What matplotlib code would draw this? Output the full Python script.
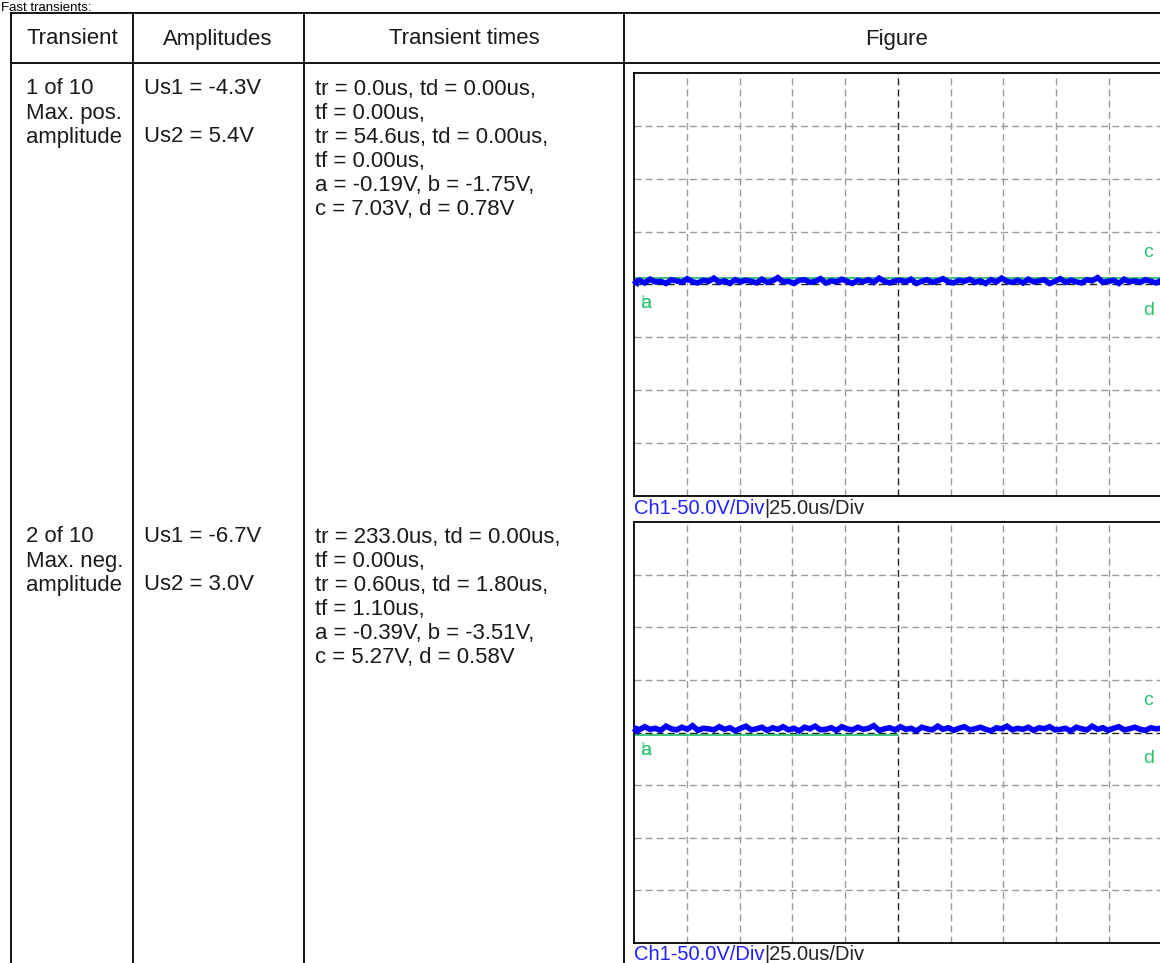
import numpy as np
import matplotlib
matplotlib.use("Agg")
import matplotlib.pyplot as plt

plt.rcParams['font.family'] = ['Liberation Sans', 'DejaVu Sans']

# ---------------- data ----------------
title = "Fast transients:"
headers = ["Transient", "Amplitudes", "Transient times", "Figure"]
transient_col = [["1 of 10", "Max. pos.", "amplitude"],
                 ["2 of 10", "Max. neg.", "amplitude"]]
amplitudes_us1 = ["Us1 = -4.3V", "Us1 = -6.7V"]
amplitudes_us2 = ["Us2 = 5.4V", "Us2 = 3.0V"]
times_col = [["tr = 0.0us, td = 0.00us,", "tf = 0.00us,",
              "tr = 54.6us, td = 0.00us,", "tf = 0.00us,",
              "a = -0.19V, b = -1.75V,", "c = 7.03V, d = 0.78V"],
             ["tr = 233.0us, td = 0.00us,", "tf = 0.00us,",
              "tr = 0.60us, td = 1.80us,", "tf = 1.10us,",
              "a = -0.39V, b = -3.51V,", "c = 5.27V, d = 0.58V"]]
caption_ch = "Ch1-50.0V/Div"
caption_time = "|25.0us/Div"

# scope traces (divisions)
trace1 = [0.04, 0.08, 0.03, 0.10, 0.05, 0.06, 0.02, 0.09, 0.07, 0.04,
          0.11, 0.05, 0.03, 0.08, 0.06, 0.12, 0.04, 0.07, 0.02, 0.09,
          0.05, 0.08, 0.06, 0.03, 0.10, 0.04, 0.07, 0.13, 0.05, 0.06,
          0.02, 0.08, 0.09, 0.04, 0.06, 0.11, 0.03, 0.07, 0.05, 0.10,
          0.06, 0.02, 0.08, 0.05, 0.09, 0.04, 0.12, 0.06, 0.03, 0.07,
          0.08, 0.05, 0.10, 0.02, 0.06, 0.09, 0.04, 0.07, 0.11, 0.05,
          0.03, 0.08, 0.06, 0.10, 0.04, 0.07, 0.02, 0.09, 0.05, 0.12,
          0.06, 0.04, 0.08, 0.03, 0.10, 0.05, 0.07, 0.09, 0.02, 0.06,
          0.11, 0.04, 0.08, 0.05, 0.03, 0.09, 0.07, 0.13, 0.04, 0.06,
          0.08, 0.02, 0.10, 0.05, 0.07, 0.04, 0.09, 0.06, 0.03, 0.08]
trace2 = [0.09, 0.05, 0.11, 0.06, 0.08, 0.04, 0.12, 0.07, 0.05, 0.10,
          0.06, 0.13, 0.04, 0.08, 0.07, 0.05, 0.11, 0.06, 0.09, 0.03,
          0.08, 0.12, 0.05, 0.07, 0.10, 0.04, 0.09, 0.06, 0.11, 0.05,
          0.08, 0.03, 0.10, 0.07, 0.12, 0.05, 0.06, 0.09, 0.04, 0.11,
          0.07, 0.05, 0.10, 0.06, 0.08, 0.13, 0.04, 0.07, 0.09, 0.05,
          0.11, 0.06, 0.08, 0.03, 0.10, 0.07, 0.05, 0.12, 0.06, 0.09,
          0.04, 0.08, 0.11, 0.05, 0.07, 0.10, 0.06, 0.03, 0.09, 0.07,
          0.12, 0.05, 0.08, 0.06, 0.10, 0.04, 0.09, 0.07, 0.11, 0.05,
          0.06, 0.08, 0.03, 0.10, 0.07, 0.05, 0.12, 0.06, 0.09, 0.04,
          0.08, 0.11, 0.05, 0.07, 0.10, 0.06, 0.04, 0.09, 0.07, 0.08]
green_level = [0.13, -0.05]      # cursor line level (div)
green_end = [10.0, 5.0]          # cursor line end (div)
traces = [trace1, trace2]

# ---------------- figure ----------------
W, H = 1160, 963
fig = plt.figure(figsize=(W / 100, H / 100), dpi=100)
bg = fig.add_axes([0, 0, 1, 1])
bg.set_xlim(0, W)
bg.set_ylim(H, 0)
bg.axis('off')

FS = 15.9
TXT = '#1a1a1a'
lc = 'black'
lw = 1.3
# table lines
bg.plot([11, W + 5], [13, 13], color=lc, lw=lw)
bg.plot([11, W + 5], [63, 63], color=lc, lw=lw)
for x in [11, 133, 304, 624]:
    bg.plot([x, x], [13, H + 5], color=lc, lw=lw)

bg.text(1, 11, title, fontsize=9.5, ha='left', va='baseline', color='black')

head_x = [72, 218, 464, 897]
for hx, t in zip(head_x, headers):
    bg.text(hx, 39, t, fontsize=FS, ha='center', va='center', color=TXT)

row_y0 = [89, 537]
dy = 24
for r in range(2):
    y0 = row_y0[r]
    for i, t in enumerate(transient_col[r]):
        bg.text(26, y0 + i * dy, t, fontsize=FS, ha='left', va='center', color=TXT)
    bg.text(144, y0, amplitudes_us1[r], fontsize=FS, ha='left', va='center', color=TXT)
    bg.text(144, y0 + 2 * dy, amplitudes_us2[r], fontsize=FS, ha='left', va='center', color=TXT)
    for i, t in enumerate(times_col[r]):
        bg.text(315, y0 + i * dy, t, fontsize=FS, ha='left', va='center', color=TXT)

# scope screens
scope_box = [(73, 496), (522, 943)]
x_left, x_right = 634, 1161.5
green = '#2bc46e'
blue = '#0000ff'
for k in range(2):
    top, bot = scope_box[k]
    ax = fig.add_axes([x_left / W, 1 - bot / H, (x_right - x_left) / W, (bot - top) / H])
    ax.set_xlim(0, 10)
    ax.set_ylim(-4, 4)
    ax.set_xticks([])
    ax.set_yticks([])
    for s in ax.spines.values():
        s.set_color('black')
        s.set_linewidth(1.3)
    for i in range(1, 10):
        c = '#222222' if i == 5 else '#9a9a9a'
        ax.plot([i, i], [-4, 4], color=c, lw=1.0, linestyle=(0, (5, 3)), zorder=1)
    for j in range(-3, 4):
        c = '#222222' if j == 0 else '#9a9a9a'
        ax.plot([0, 10], [j, j], color=c, lw=1.0, linestyle=(0, (5, 3)), zorder=1)
    ax.plot([0, green_end[k]], [green_level[k], green_level[k]], color=green, lw=1.3, zorder=2)
    tr = traces[k]
    xs = np.linspace(0, 10, len(tr))
    ax.plot(xs, tr, color=blue, lw=4.0, zorder=3, solid_joinstyle='miter')
    ax.plot(xs, tr, color=blue, lw=1.0, zorder=3, alpha=0.8)
    # trigger marker
    ax.plot([-0.04], [0.05], marker=4, color=blue, markersize=6, clip_on=False, zorder=4)
    ax.text(0.12, -0.35, 'a', color=green, fontsize=14, ha='left', va='center')
    ax.text(0.12, -0.35, 'b', color=green, fontsize=14, ha='left', va='center', alpha=0.6)
    ax.text(9.75, 0.6, 'c', color=green, fontsize=14, ha='center', va='center')
    ax.text(9.75, -0.5, 'd', color=green, fontsize=14, ha='center', va='center')
    # caption
    cap_y = bot + 12
    t1 = bg.text(x_left, cap_y, caption_ch, fontsize=14.5, ha='left', va='center', color='#2020ff')
    bg.annotate(caption_time, xy=(1, 0.5), xycoords=t1, fontsize=14.5, ha='left', va='center',
                color='#222222')

fig.savefig('out.png', dpi=100)
